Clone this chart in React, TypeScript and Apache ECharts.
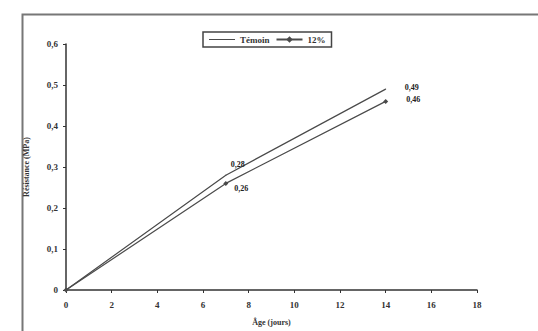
import React, { useEffect, useRef } from "react";
import * as echarts from "echarts";

const ages = [0, 7, 14];
const temoin = [0, 0.28, 0.49];
const pct12 = [0, 0.26, 0.46];
const seriesNames = ["Témoin", "12%"];
const xTitle = "Âge (jours)";
const yTitle = "Résistance (MPa)";

const fmtY = (v: number) => (v === 0 ? "0" : v.toFixed(1).replace(".", ","));
const fmtLbl = (v: number) => v.toFixed(2).replace(".", ",");

export default function App() {
  const ref = useRef<HTMLDivElement>(null);
  useEffect(() => {
    const chart = echarts.init(ref.current!, undefined, { renderer: "svg" });
    const font = "Liberation Serif";
    const lineColor = "#4a4a4a";
    const lbl = {
      show: true,
      fontFamily: font,
      fontSize: 8,
      fontWeight: "bold",
      color: "#222222",
      textBorderWidth: 0,
      textShadowBlur: 0,
    };
    chart.setOption({
      animation: false,
      backgroundColor: "#fff",
      textStyle: { fontFamily: font },
      grid: { left: 66, right: 61, top: 44, bottom: 35 },
      legend: {
        top: 32,
        left: 203,
        itemWidth: 26,
        itemHeight: 8,
        itemGap: 6,
        padding: [3, 6],
        borderColor: "#444",
        borderWidth: 1.5,
        textStyle: { fontFamily: font, fontSize: 9, fontWeight: "bold", color: "#333" },
        data: [
          { name: seriesNames[0], icon: "path://M0,4L26,4L26,5L0,5Z" },
          { name: seriesNames[1] },
        ],
      },
      xAxis: {
        type: "value",
        min: 0,
        max: 18,
        interval: 2,
        name: xTitle,
        nameLocation: "middle",
        nameGap: 28,
        nameTextStyle: { fontFamily: font, fontSize: 8, fontWeight: "bold", color: "#333" },
        axisLine: { lineStyle: { color: "#333", width: 1.5 } },
        axisTick: { inside: false, length: 3, lineStyle: { color: "#333" } },
        axisLabel: { fontFamily: font, fontSize: 9, fontWeight: "bold", color: "#333", margin: 10 },
        splitLine: { show: false },
      },
      yAxis: {
        type: "value",
        min: 0,
        max: 0.6,
        interval: 0.1,
        name: yTitle,
        nameLocation: "middle",
        nameGap: 36,
        nameTextStyle: { fontFamily: font, fontSize: 8, fontWeight: "bold", color: "#333" },
        axisLine: { show: true, lineStyle: { color: "#333", width: 1.5 } },
        axisTick: { show: true, length: 3, lineStyle: { color: "#333" } },
        axisLabel: { fontFamily: font, fontSize: 9, fontWeight: "bold", color: "#333", margin: 8, formatter: fmtY },
        splitLine: { show: false },
      },
      series: [
        {
          name: seriesNames[0],
          type: "line",
          data: ages.map((a, i) => [a, temoin[i]]),
          symbol: "circle",
          symbolSize: 1,
          showSymbol: true,
          lineStyle: { color: lineColor, width: 1.2 },
          itemStyle: { color: lineColor },
          label: {
            ...lbl,
            position: "top",
            formatter: (p: any) => (p.dataIndex === 0 ? "" : fmtLbl(p.value[1])),
          },
          labelLayout: (p: any) => {
            if (p.dataIndex === 1) return { dx: 12, dy: -1 };
            if (p.dataIndex === 2) return { dx: 26, dy: 8 };
            return {};
          },
        },
        {
          name: seriesNames[1],
          type: "line",
          data: ages.map((a, i) => [a, pct12[i]]),
          symbol: "diamond",
          symbolSize: 5,
          lineStyle: { color: lineColor, width: 1.2 },
          itemStyle: { color: lineColor },
          label: {
            ...lbl,
            position: "right",
            distance: 6,
            formatter: (p: any) => (p.dataIndex === 0 ? "" : fmtLbl(p.value[1])),
          },
          labelLayout: (p: any) => {
            if (p.dataIndex === 1) return { dy: 5 };
            if (p.dataIndex === 2) return { dx: 12, dy: -2 };
            return {};
          },
        },
      ],
      graphic: [
        {
          type: "rect",
          left: 20,
          top: 12,
          shape: { width: 540, height: 340 },
          style: { fill: "none", stroke: "#777", lineWidth: 2 },
          silent: true,
        },
      ],
    });
    return () => chart.dispose();
  }, []);
  return (
    <div
      ref={ref}
      style={{ position: "fixed", left: 0, top: 0, width: 538, height: 331 }}
    />
  );
}
